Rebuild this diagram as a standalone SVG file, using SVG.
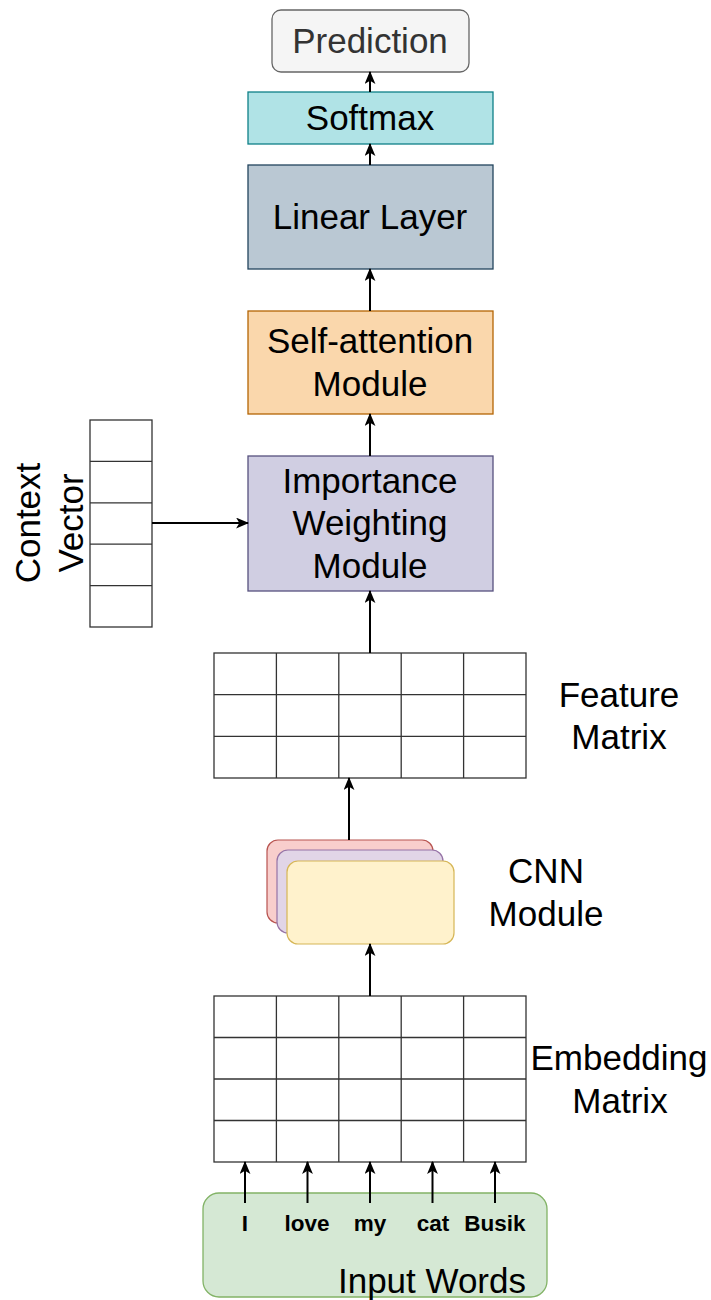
<svg xmlns="http://www.w3.org/2000/svg" width="711" height="1300" viewBox="0 0 711 1300">
  <style>
    .lbl { font-family: "Liberation Sans", Arial, sans-serif; font-size: 35px; fill: #000; text-anchor: middle; }
    .word { font-family: "Liberation Sans", Arial, sans-serif; font-size: 22.5px; font-weight: bold; fill: #000; text-anchor: middle; }
    .grid { fill: #fff; stroke: #333; stroke-width: 1.3; }
    .gl { stroke: #333; stroke-width: 1.3; }
    .edge { stroke: #000; stroke-width: 2; fill: none; marker-end: url(#arrow); }
  </style>
  <defs>
    <marker id="arrow" viewBox="0 0 12 10" refX="11" refY="5" markerWidth="6.5" markerHeight="5.5" orient="auto" markerUnits="strokeWidth">
      <path d="M0,0 L12,5 L0,10 L3,5 Z" fill="#000"/>
    </marker>
  </defs>

  <rect width="711" height="1300" fill="#fff"/>

  <g id="prediction">
    <rect x="272" y="10" width="197" height="62" rx="9" fill="#f5f5f5" stroke="#666" stroke-width="1.3"/>
    <text class="lbl" x="370" y="53" style="fill:#333">Prediction</text>
  </g>

  <g id="softmax">
    <rect x="248" y="92" width="245" height="52" fill="#b0e3e6" stroke="#0e8088" stroke-width="1.3"/>
    <text class="lbl" x="370" y="130">Softmax</text>
  </g>

  <g id="linear-layer">
    <rect x="248" y="165" width="245" height="104" fill="#bac8d3" stroke="#23445d" stroke-width="1.3"/>
    <text class="lbl" x="370" y="229">Linear Layer</text>
  </g>

  <g id="self-attention">
    <rect x="248" y="311" width="245" height="103" fill="#fad7ac" stroke="#b46504" stroke-width="1.3"/>
    <text class="lbl" x="370" y="353">Self-attention</text>
    <text class="lbl" x="370" y="396">Module</text>
  </g>

  <g id="importance-weighting">
    <rect x="248" y="456" width="245" height="135" fill="#d0cee2" stroke="#56517e" stroke-width="1.3"/>
    <text class="lbl" x="370" y="493">Importance</text>
    <text class="lbl" x="370" y="535">Weighting</text>
    <text class="lbl" x="370" y="578">Module</text>
  </g>

  <g id="context-vector">
    <rect class="grid" x="90" y="420" width="62" height="207"/>
    <line class="gl" x1="90" y1="461.4" x2="152" y2="461.4"/>
    <line class="gl" x1="90" y1="502.8" x2="152" y2="502.8"/>
    <line class="gl" x1="90" y1="544.2" x2="152" y2="544.2"/>
    <line class="gl" x1="90" y1="585.6" x2="152" y2="585.6"/>
    <text class="lbl" transform="translate(40,523) rotate(-90)">Context</text>
    <text class="lbl" transform="translate(83,523) rotate(-90)">Vector</text>
  </g>

  <g id="feature-matrix">
    <rect class="grid" x="214" y="653" width="312" height="125"/>
    <line class="gl" x1="276.4" y1="653" x2="276.4" y2="778"/>
    <line class="gl" x1="338.8" y1="653" x2="338.8" y2="778"/>
    <line class="gl" x1="401.2" y1="653" x2="401.2" y2="778"/>
    <line class="gl" x1="463.6" y1="653" x2="463.6" y2="778"/>
    <line class="gl" x1="214" y1="694.7" x2="526" y2="694.7"/>
    <line class="gl" x1="214" y1="736.3" x2="526" y2="736.3"/>
    <text class="lbl" x="619" y="707">Feature</text>
    <text class="lbl" x="619" y="749">Matrix</text>
  </g>

  <g id="cnn-module">
    <rect x="267" y="840" width="166" height="83" rx="11" fill="#f8cecc" stroke="#b85450" stroke-width="1.2"/>
    <rect x="277" y="850" width="166" height="83" rx="11" fill="#e1d5e7" stroke="#9673a6" stroke-width="1.2"/>
    <rect x="287" y="861" width="167" height="83" rx="11" fill="#fff2cc" stroke="#d6b656" stroke-width="1.2"/>
    <text class="lbl" x="546" y="883">CNN</text>
    <text class="lbl" x="546" y="926">Module</text>
  </g>

  <g id="embedding-matrix">
    <rect class="grid" x="214" y="996" width="312" height="166"/>
    <line class="gl" x1="276.4" y1="996" x2="276.4" y2="1162"/>
    <line class="gl" x1="338.8" y1="996" x2="338.8" y2="1162"/>
    <line class="gl" x1="401.2" y1="996" x2="401.2" y2="1162"/>
    <line class="gl" x1="463.6" y1="996" x2="463.6" y2="1162"/>
    <line class="gl" x1="214" y1="1037.5" x2="526" y2="1037.5"/>
    <line class="gl" x1="214" y1="1079" x2="526" y2="1079"/>
    <line class="gl" x1="214" y1="1120.5" x2="526" y2="1120.5"/>
    <text class="lbl" x="619" y="1070">Embedding</text>
    <text class="lbl" x="620" y="1113">Matrix</text>
  </g>

  <g id="input-words">
    <rect x="203" y="1193" width="344" height="104" rx="16" fill="#d5e8d4" stroke="#82b366" stroke-width="1.3"/>
    <text class="word" x="245" y="1231">I</text>
    <text class="word" x="307" y="1231">love</text>
    <text class="word" x="370" y="1231">my</text>
    <text class="word" x="433" y="1231">cat</text>
    <text class="word" x="495" y="1231">Busik</text>
    <text class="lbl" x="526" y="1293" style="text-anchor:end">Input Words</text>
  </g>

  <g id="connectors">
    <line class="edge" x1="370" y1="92" x2="370" y2="72"/>
    <line class="edge" x1="370" y1="165" x2="370" y2="144"/>
    <line class="edge" x1="370" y1="311" x2="370" y2="269"/>
    <line class="edge" x1="370" y1="456" x2="370" y2="414"/>
    <line class="edge" x1="370" y1="653" x2="370" y2="591"/>
    <line class="edge" x1="152" y1="523" x2="248" y2="523"/>
    <line class="edge" x1="349" y1="840" x2="349" y2="778"/>
    <line class="edge" x1="370" y1="996" x2="370" y2="944"/>
    <line class="edge" x1="245" y1="1203" x2="245" y2="1162"/>
    <line class="edge" x1="307.5" y1="1203" x2="307.5" y2="1162"/>
    <line class="edge" x1="370" y1="1203" x2="370" y2="1162"/>
    <line class="edge" x1="432.5" y1="1203" x2="432.5" y2="1162"/>
    <line class="edge" x1="495" y1="1203" x2="495" y2="1162"/>
  </g>
</svg>
